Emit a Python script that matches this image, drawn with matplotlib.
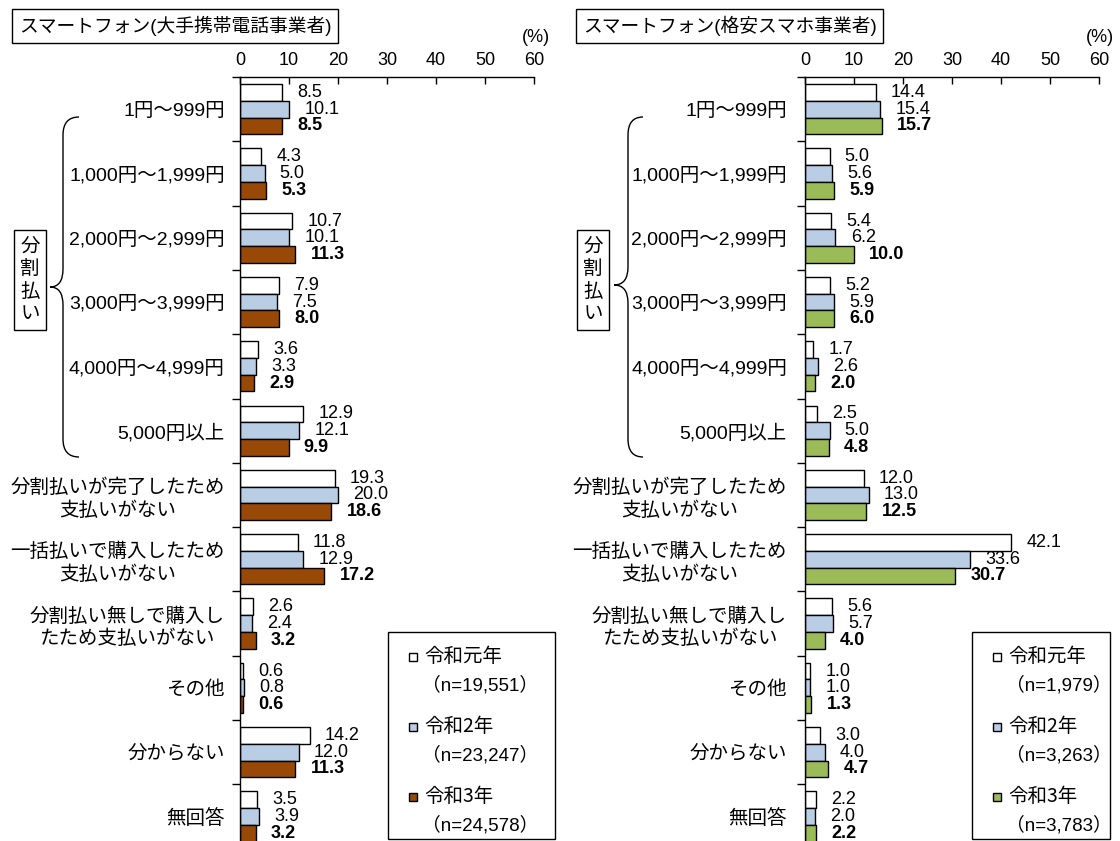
import matplotlib
matplotlib.use("Agg")
import matplotlib.pyplot as plt
from matplotlib.patches import Rectangle, PathPatch
from matplotlib.path import Path

plt.rcParams['font.family'] = ['Noto Sans CJK JP', 'DejaVu Sans']

# データ
categories = ["1円～999円", "1,000円～1,999円", "2,000円～2,999円", "3,000円～3,999円",
              "4,000円～4,999円", "5,000円以上", "分割払いが完了したため\n支払いがない",
              "一括払いで購入したため\n支払いがない", "分割払い無しで購入し\nたため支払いがない",
              "その他", "分からない", "無回答"]
years = ["令和元年", "令和2年", "令和3年"]

big_r1 = [8.5, 4.3, 10.7, 7.9, 3.6, 12.9, 19.3, 11.8, 2.6, 0.6, 14.2, 3.5]
big_r2 = [10.1, 5.0, 10.1, 7.5, 3.3, 12.1, 20.0, 12.9, 2.4, 0.8, 12.0, 3.9]
big_r3 = [8.5, 5.3, 11.3, 8.0, 2.9, 9.9, 18.6, 17.2, 3.2, 0.6, 11.3, 3.2]
big_n = ["（n=19,551）", "（n=23,247）", "（n=24,578）"]

mvno_r1 = [14.4, 5.0, 5.4, 5.2, 1.7, 2.5, 12.0, 42.1, 5.6, 1.0, 3.0, 2.2]
mvno_r2 = [15.4, 5.6, 6.2, 5.9, 2.6, 5.0, 13.0, 33.6, 5.7, 1.0, 4.0, 2.0]
mvno_r3 = [15.7, 5.9, 10.0, 6.0, 2.0, 4.8, 12.5, 30.7, 4.0, 1.3, 4.7, 2.2]
mvno_n = ["（n=1,979）", "（n=3,263）", "（n=3,783）"]

titles = ["スマートフォン(大手携帯電話事業者)", "スマートフォン(格安スマホ事業者)"]
xticks = [0, 10, 20, 30, 40, 50, 60]

W, H = 1120, 841
NUM = ['Liberation Sans', 'DejaVu Sans']
CAT = ['Liberation Sans', 'Noto Sans CJK JP', 'DejaVu Sans']


def fx(px):
    return px / W


def fy(py):
    return 1 - py / H


fig = plt.figure(figsize=(11.2, 8.41), dpi=100)


def draw_panel(x0, series, colors, label_pad):
    ax = fig.add_axes([fx(x0), fy(848.6), 294 / W, (848.6 - 77) / H])
    h = 0.26
    pos = list(range(len(categories)))
    for k, vals in enumerate(series):
        ys = [p + (k - 1) * h for p in pos]
        ax.barh(ys, vals, height=h, color=colors[k], edgecolor='black', linewidth=1.0)
        for y, v in zip(ys, vals):
            ax.annotate(f"{v:.1f}", xy=(v, y), xytext=(11, 0), textcoords='offset points',
                        ha='left', va='center', fontsize=13, family=NUM,
                        fontweight='bold' if k == 2 else 'normal')
    ax.set_xlim(0, 60)
    ax.set_ylim(len(categories) - 0.5, -0.5)
    ax.xaxis.tick_top()
    ax.set_xticks(xticks)
    ax.set_xticklabels([str(t) for t in xticks], family=NUM, fontsize=13)
    ax.tick_params(axis='x', direction='in', length=5, width=1, pad=6)
    ax.set_yticks(pos)
    ax.set_yticklabels(categories, family=CAT, fontsize=14, linespacing=1.3,
                       multialignment='center')
    ax.set_yticks([p - 0.5 for p in range(len(categories) + 1)], minor=True)
    ax.tick_params(axis='y', which='major', length=0, pad=label_pad)
    ax.tick_params(axis='y', which='minor', direction='out', length=6, width=1)
    for s in ['right', 'bottom']:
        ax.spines[s].set_visible(False)
    for s in ['left', 'top']:
        ax.spines[s].set_linewidth(1.0)
    return ax


ax1 = draw_panel(240, [big_r1, big_r2, big_r3], ['white', '#B9CDE5', '#984807'], 11)
ax2 = draw_panel(805, [mvno_r1, mvno_r2, mvno_r3], ['white', '#B9CDE5', '#9BBB59'], 13)

# タイトル
fig.text(fx(19), fy(26), titles[0], fontsize=13.5, va='center', ha='left', family=CAT,
         bbox=dict(boxstyle='square,pad=0.35', fc='white', ec='black', lw=1))
fig.text(fx(583), fy(26), titles[1], fontsize=13.5, va='center', ha='left', family=CAT,
         bbox=dict(boxstyle='square,pad=0.35', fc='white', ec='black', lw=1))
fig.text(fx(536), fy(38), "(%)", fontsize=13, va='center', ha='center', family=NUM)
fig.text(fx(1100), fy(38), "(%)", fontsize=13, va='center', ha='center', family=NUM)


# 中括弧と「分割払い」
def brace(xr, xm, xt, top, tip, bot):
    c = 18
    verts = [(xr, top), (xm, top), (xm, top + c), (xm, top + c),
             (xm, tip - c), (xm, tip), (xt, tip),
             (xm, tip), (xm, tip + c),
             (xm, bot - c), (xm, bot - c), (xm, bot), (xr, bot)]
    codes = [Path.MOVETO, Path.CURVE3, Path.CURVE3, Path.LINETO,
             Path.LINETO, Path.CURVE3, Path.CURVE3,
             Path.CURVE3, Path.CURVE3,
             Path.LINETO, Path.LINETO, Path.CURVE3, Path.CURVE3]
    verts = [(fx(x), fy(y)) for x, y in verts]
    fig.add_artist(PathPatch(Path(verts, codes), fill=False, lw=1.0, ec='black',
                             transform=fig.transFigure))


brace(79, 63, 50, 117, 287, 457)
brace(643, 628, 614, 117, 285, 457)

for cx in [30, 593]:
    fig.text(fx(cx), fy(280), "分\n割\n払\nい", fontsize=14, ha='center', va='center',
             linespacing=1.1,
             bbox=dict(boxstyle='square,pad=0.3', fc='white', ec='black', lw=1))


# 凡例
def legend(x0, x1, mx, tx, colors, ns):
    fig.add_artist(Rectangle((fx(x0), fy(839)), fx(x1 - x0), (839 - 632) / H,
                             fill=False, ec='black', lw=1.0, transform=fig.transFigure))
    for k in range(3):
        yy = 657 + k * 70
        fig.add_artist(Rectangle((fx(mx), fy(yy + 4)), fx(8), 8 / H, fc=colors[k],
                                 ec='black', lw=1.0, transform=fig.transFigure))
        fig.text(fx(tx), fy(yy), years[k], fontsize=14, va='center', ha='left')
        fig.text(fx(tx - 2), fy(yy + 28), ns[k], fontsize=13.5, va='center', ha='left',
                 family=CAT)


legend(388, 555, 409, 424, ['white', '#B9CDE5', '#984807'], big_n)
legend(972, 1110, 993, 1008, ['white', '#B9CDE5', '#9BBB59'], mvno_n)

fig.savefig("out.png", dpi=100)
